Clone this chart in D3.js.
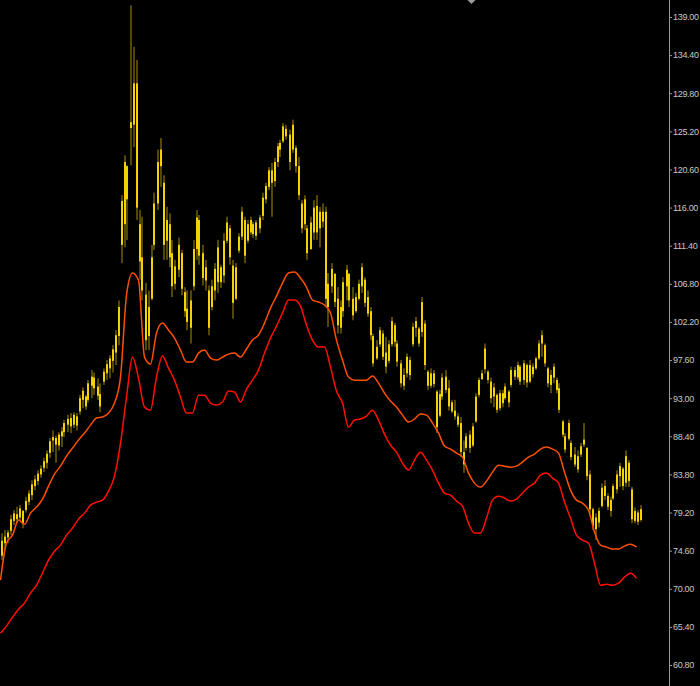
<!DOCTYPE html>
<html>
<head>
<meta charset="utf-8">
<script src="https://cdn.jsdelivr.net/npm/d3@7"></script>
<style>
  html, body { margin: 0; padding: 0; background: #000; }
  svg { display: block; }
</style>
</head>
<body>
<svg id="chart" width="700" height="686"></svg>
<script>
// price bars, one per period
const openP = [
  74.0, 75.5, 76.2, 77.0, 78.2, 79.0, 78.6, 79.4, 79.5, 80.5,
  81.3, 82.4, 83.0, 83.8, 84.6, 85.2, 86.4, 87.9, 88.2, 87.3,
  88.4, 88.9, 89.8, 90.6, 89.8, 90.8, 91.4, 92.8, 93.2, 92.8,
  94.5, 95.5, 94.4, 93.5, 95.0, 96.0, 96.6, 97.5, 98.5, 100.5,
  111.5, 114.0, 121.0, 126.3, 126.0, 131.0, 114.0, 110.0, 105.5, 100.5,
  105.0, 111.5, 116.5, 121.0, 119.0, 112.0, 114.0, 110.5, 106.8, 108.5,
  110.5, 105.8, 103.8, 101.5, 106.5, 111.0, 114.5, 110.5, 107.2, 106.0,
  104.0, 106.0, 107.0, 108.8, 107.8, 112.0, 113.5, 109.0, 105.0, 110.8,
  112.5, 114.5, 112.0, 113.0, 114.0, 112.6, 113.5, 115.0, 117.0, 118.5,
  120.5, 119.2, 121.5, 123.0, 124.0, 125.5, 124.8, 123.0, 123.2, 121.0,
  116.5, 114.0, 113.5, 111.0, 113.0, 116.2, 113.5, 115.5, 115.5, 104.0,
  106.5, 108.0, 105.0, 101.5, 103.5, 106.5, 108.0, 105.0, 103.5, 105.0,
  106.5, 107.3, 105.2, 103.5, 100.5, 97.8, 99.5, 100.8, 98.5, 97.5,
  99.5, 101.8, 99.6, 97.2, 94.5, 96.0, 97.6, 99.5, 101.5, 101.4,
  101.0, 102.0, 96.2, 94.5, 96.0, 93.8, 90.9, 93.2, 95.6, 94.2,
  92.5, 91.5, 90.8, 90.0, 86.5, 87.0, 88.6, 87.3, 90.2, 93.4,
  95.3, 96.5, 96.2, 95.0, 93.2, 93.4, 91.8, 93.6, 93.0, 93.8,
  94.6, 96.4, 95.5, 96.8, 95.2, 97.0, 95.0, 96.8, 96.6, 97.8,
  99.6, 99.4, 96.6, 94.6, 95.5, 95.2, 94.2, 90.2, 88.4, 88.1,
  87.6, 86.2, 84.4, 86.2, 87.4, 87.0, 83.8, 79.6, 77.2, 78.0,
  80.0, 82.4, 81.2, 79.4, 80.9, 82.0, 83.6, 84.5, 82.8, 85.2,
  82.0, 78.2, 79.2, 78.3
];
const highP = [
  76.7, 77.1, 77.1, 78.9, 79.5, 79.9, 80.1, 79.5, 81.1, 81.9,
  83.1, 83.7, 84.3, 84.9, 85.8, 86.7, 88.2, 89.1, 88.5, 88.9,
  89.5, 90.4, 91.0, 91.2, 91.3, 91.2, 93.4, 94.3, 93.4, 95.2,
  96.4, 96.1, 95.4, 94.8, 96.6, 97.6, 98.2, 99.4, 101.2, 104.8,
  117.5, 122.3, 121.1, 140.4, 135.4, 133.8, 115.7, 114.9, 106.9, 106.0,
  111.5, 117.8, 123.0, 124.4, 119.9, 116.1, 115.3, 112.1, 109.7, 112.4,
  110.9, 106.4, 106.0, 106.0, 112.1, 115.7, 115.1, 111.5, 109.7, 106.6,
  107.3, 109.3, 112.1, 109.1, 112.9, 114.9, 113.9, 109.7, 109.3, 112.9,
  116.1, 114.9, 114.5, 114.9, 114.3, 114.5, 115.1, 117.8, 119.0, 120.9,
  121.4, 122.0, 123.8, 124.2, 126.2, 126.0, 125.4, 126.6, 123.5, 122.1,
  116.9, 117.5, 113.9, 114.9, 116.9, 117.5, 116.1, 116.5, 116.1, 108.1,
  109.3, 108.1, 106.4, 104.8, 107.6, 109.1, 108.1, 106.4, 105.7, 107.3,
  109.3, 107.6, 106.0, 104.0, 100.8, 100.0, 101.6, 101.2, 100.4, 100.0,
  102.8, 102.1, 100.0, 97.6, 96.6, 98.4, 98.0, 102.1, 102.8, 101.6,
  105.2, 102.4, 96.4, 96.6, 96.4, 94.0, 94.0, 96.0, 96.4, 95.2,
  92.8, 92.8, 91.2, 90.7, 87.9, 88.8, 89.1, 90.0, 93.6, 95.5,
  96.4, 99.6, 96.4, 95.5, 94.8, 93.6, 94.0, 94.0, 94.8, 94.0,
  96.8, 96.8, 97.4, 97.0, 97.6, 97.2, 97.6, 97.2, 98.0, 100.0,
  101.2, 99.6, 96.8, 96.4, 97.2, 95.5, 94.8, 90.4, 88.8, 90.4,
  87.9, 87.1, 86.7, 87.6, 90.0, 87.1, 84.3, 79.8, 79.1, 79.8,
  82.7, 83.1, 81.5, 81.1, 82.7, 84.3, 85.2, 84.7, 86.7, 85.5,
  82.3, 79.8, 79.5, 80.1
];
const lowP = [
  73.5, 74.7, 75.5, 76.5, 77.7, 77.9, 78.3, 77.3, 79.2, 80.1,
  80.7, 81.9, 82.5, 83.4, 84.1, 84.5, 85.8, 86.5, 85.2, 86.7,
  87.1, 88.3, 88.9, 88.8, 89.4, 89.1, 91.0, 91.8, 91.6, 92.5,
  93.0, 93.4, 92.8, 91.3, 94.6, 95.2, 95.4, 96.1, 97.0, 99.4,
  109.3, 111.2, 112.1, 121.1, 123.3, 114.5, 107.3, 104.8, 98.8, 98.8,
  104.8, 110.9, 115.7, 118.5, 109.7, 109.7, 108.8, 105.2, 106.1, 107.6,
  105.4, 102.8, 101.2, 99.6, 106.0, 109.7, 109.1, 106.6, 106.0, 100.6,
  103.6, 104.8, 105.7, 106.3, 106.9, 111.7, 109.1, 102.6, 104.8, 110.5,
  112.1, 109.3, 111.7, 112.7, 112.3, 112.1, 112.9, 114.5, 116.5, 118.1,
  114.9, 118.5, 120.9, 122.1, 123.8, 124.2, 120.5, 122.6, 120.2, 116.9,
  112.9, 113.3, 109.7, 110.9, 112.1, 112.1, 111.2, 113.6, 104.0, 101.6,
  105.7, 104.0, 100.8, 100.8, 102.8, 104.8, 104.0, 102.4, 103.3, 104.8,
  105.7, 104.0, 102.8, 100.0, 96.8, 97.6, 99.2, 97.6, 96.0, 97.2,
  99.2, 99.2, 96.8, 94.3, 94.0, 95.5, 95.2, 99.2, 100.4, 99.2,
  100.4, 96.4, 94.0, 94.2, 94.3, 88.8, 90.7, 92.8, 93.6, 91.5,
  91.2, 90.4, 89.5, 85.9, 84.0, 86.7, 86.4, 87.1, 90.0, 93.1,
  95.2, 96.0, 94.8, 92.4, 91.9, 91.2, 91.5, 91.9, 92.8, 91.9,
  94.3, 95.2, 95.2, 94.6, 94.6, 94.3, 94.8, 95.5, 96.4, 97.6,
  98.0, 96.8, 94.3, 93.6, 94.8, 93.6, 91.2, 88.3, 86.4, 87.9,
  85.5, 84.7, 84.0, 85.9, 87.1, 83.1, 79.1, 77.1, 75.9, 77.4,
  79.8, 80.7, 79.5, 78.7, 80.7, 81.5, 82.3, 81.9, 82.3, 82.3,
  77.9, 77.9, 77.7, 78.1
];
const closeP = [
  75.8, 76.3, 76.8, 78.4, 79.1, 78.4, 79.7, 77.9, 80.6, 81.5,
  82.6, 83.2, 83.9, 84.5, 85.4, 86.3, 87.8, 88.3, 87.4, 88.6,
  89.0, 90.0, 90.5, 89.6, 91.0, 89.7, 93.0, 93.9, 92.0, 94.8,
  95.6, 94.2, 93.3, 92.0, 96.2, 97.1, 97.8, 98.9, 100.6, 104.0,
  116.8, 121.5, 117.0, 125.6, 131.0, 116.0, 109.5, 106.0, 100.0, 104.0,
  110.0, 116.5, 121.5, 123.0, 111.5, 114.5, 110.0, 106.5, 108.9, 111.5,
  106.2, 103.5, 102.2, 104.8, 111.0, 114.8, 110.2, 107.5, 108.8, 101.5,
  106.5, 108.6, 111.2, 107.0, 112.0, 114.2, 110.0, 104.5, 108.8, 112.5,
  115.5, 110.2, 114.0, 114.5, 112.8, 114.2, 114.8, 117.2, 118.6, 120.5,
  119.0, 121.5, 123.4, 123.8, 125.8, 124.6, 121.5, 126.0, 121.0, 117.5,
  113.5, 117.0, 110.5, 114.2, 116.0, 113.0, 115.5, 114.3, 105.0, 106.8,
  108.6, 104.6, 101.8, 104.0, 107.0, 108.5, 104.8, 103.0, 105.2, 106.8,
  108.8, 104.5, 103.2, 100.6, 97.2, 99.2, 101.2, 98.0, 96.8, 99.5,
  102.3, 99.8, 97.4, 94.8, 95.8, 98.0, 95.8, 101.6, 102.3, 99.6,
  104.6, 97.0, 94.5, 96.0, 94.7, 89.5, 93.5, 95.5, 94.0, 92.0,
  91.4, 90.8, 89.8, 86.5, 85.0, 88.4, 87.0, 89.6, 93.2, 95.2,
  96.0, 99.0, 95.2, 93.0, 94.3, 91.6, 93.6, 92.4, 94.4, 92.5,
  96.4, 95.6, 97.0, 95.0, 97.2, 94.9, 97.0, 95.9, 97.8, 99.6,
  100.6, 97.2, 94.8, 95.8, 96.8, 94.0, 91.6, 88.6, 86.8, 90.0,
  85.9, 85.0, 86.0, 87.2, 88.0, 83.6, 79.6, 77.6, 78.6, 79.4,
  82.2, 81.2, 79.9, 80.7, 82.4, 83.8, 84.8, 82.4, 86.0, 83.0,
  78.4, 79.4, 78.1, 79.6
];

// the two indicator lines, one value every second bar
const maUpper = [
  71.04, 75.51, 76.47, 78.29, 77.80, 79.13, 79.86, 80.82, 82.39, 83.84,
  84.80, 86.01, 86.98, 87.94, 88.79, 89.75, 90.60, 90.72, 91.20, 92.41,
  95.55, 105.45, 108.10, 107.25, 97.96, 97.12, 100.86, 102.06, 101.22, 100.25,
  98.81, 97.36, 97.36, 98.44, 98.81, 97.84, 97.60, 97.96, 98.32, 98.44,
  97.96, 98.93, 100.01, 100.62, 102.06, 103.87, 105.32, 106.89, 108.10, 108.22,
  107.50, 106.41, 104.84, 104.60, 104.24, 103.27, 100.01, 97.60, 95.55, 95.18,
  95.18, 95.18, 95.67, 94.82, 93.62, 92.65, 91.93, 90.96, 90.12, 90.48,
  91.08, 90.96, 90.00, 88.79, 87.22, 86.86, 86.37, 85.89, 83.96, 82.75,
  82.27, 82.99, 84.08, 84.92, 84.80, 84.68, 84.80, 85.29, 85.89, 86.25,
  86.86, 87.10, 86.86, 86.37, 84.08, 81.91, 80.70, 80.34, 79.49, 76.84,
  75.27, 75.03, 74.79, 74.79, 75.15, 75.39, 75.03
];
const maLower = [
  64.65, 65.49, 66.58, 67.54, 68.27, 69.48, 70.44, 71.89, 73.46, 74.54,
  75.27, 76.47, 77.32, 78.41, 79.13, 80.10, 80.46, 80.70, 81.79, 83.60,
  87.58, 93.13, 97.96, 95.42, 91.92, 91.56, 95.55, 98.08, 96.63, 95.18,
  93.13, 91.20, 91.20, 93.37, 93.37, 92.41, 92.17, 92.53, 93.86, 93.74,
  92.53, 94.10, 95.18, 96.39, 98.44, 100.25, 101.70, 103.27, 104.84, 104.84,
  104.11, 101.82, 100.01, 99.17, 99.17, 96.75, 93.86, 92.41, 89.51, 90.36,
  90.48, 90.84, 91.56, 90.36, 88.67, 87.34, 86.49, 85.17, 84.32, 85.53,
  86.49, 85.53, 84.32, 82.75, 81.55, 81.30, 80.58, 79.98, 77.92, 76.72,
  76.72, 78.53, 80.70, 81.18, 80.94, 80.58, 80.82, 81.55, 82.27, 82.75,
  83.72, 83.96, 83.36, 82.75, 80.46, 78.53, 76.47, 75.87, 75.51, 73.10,
  70.44, 70.56, 70.44, 70.68, 71.41, 71.89, 71.29
];

// price scale labels on the right
const tickValues = [60.8, 65.4, 70.0, 74.6, 79.2, 83.8, 88.4, 93.0, 97.6,
  102.2, 106.8, 111.4, 116.0, 120.6, 125.2, 129.8, 134.4, 139.0];

const width = 700, height = 686;
const axisX = 669;
const n = closeP.length;

const bars = closeP.map((c, i) => ({ i: i, o: openP[i], h: highP[i], l: lowP[i], c: c }));

let x = d3.scaleLinear().domain([0, n - 1]).range([0.5, 639.5]);
let y = d3.scaleLinear().domain([58.27, 141.05]).range([height, 0]);

const svg = d3.select("#chart");

svg.append("rect")
    .attr("width", width)
    .attr("height", height)
    .attr("fill", "#000");

// wicks
svg.append("g")
    .selectAll("line")
    .data(bars)
    .enter().append("line")
        .attr("x1", d => Math.round(x(d.i)) + 1)
        .attr("x2", d => Math.round(x(d.i)) + 1)
        .attr("y1", d => y(d.h))
        .attr("y2", d => y(d.l))
        .attr("stroke", "#a89000")
        .attr("stroke-width", 1);

// bodies
svg.append("g")
    .selectAll("rect")
    .data(bars)
    .enter().append("rect")
        .attr("x", d => Math.round(x(d.i)))
        .attr("y", d => y(Math.max(d.o, d.c)))
        .attr("width", 2)
        .attr("height", d => Math.max(1, Math.abs(y(d.o) - y(d.c))))
        .attr("fill", "#f2d200");

// indicator lines
function drawLine(values, color) {
    svg.append("path")
        .datum(values)
        .attr("fill", "none")
        .attr("stroke", color)
        .attr("stroke-width", 1.5)
        .attr("d", d3.line()
            .x((d, k) => x(k * 2))
            .y(d => y(d))
            .curve(d3.curveMonotoneX));
}
drawLine(maUpper, "#ff5000");
drawLine(maLower, "#ff1000");

// price axis
let axis = svg.append("g")
    .attr("transform", `translate(${axisX}, 0)`)
    .call(d3.axisRight(y)
        .tickValues(tickValues)
        .tickFormat(d3.format(".2f"))
        .tickSize(3)
        .tickPadding(1));

axis.select(".domain")
    .attr("stroke", "#9a9a9a")
    .attr("d", `M0.5,0V${height}`);
axis.selectAll(".tick line").attr("stroke", "#9a9a9a");
axis.selectAll(".tick text")
    .attr("fill", "#c8c8c8")
    .style("font-family", "'Liberation Sans', Arial, sans-serif")
    .style("font-size", "9px")
    .style("letter-spacing", "-0.3px");

// chart shift marker at the top
const shiftX = x(157);
svg.append("path")
    .attr("d", `M${shiftX - 4},0 L${shiftX + 4},0 L${shiftX},4 Z`)
    .attr("fill", "#9a9a9a");
</script>
</body>
</html>
